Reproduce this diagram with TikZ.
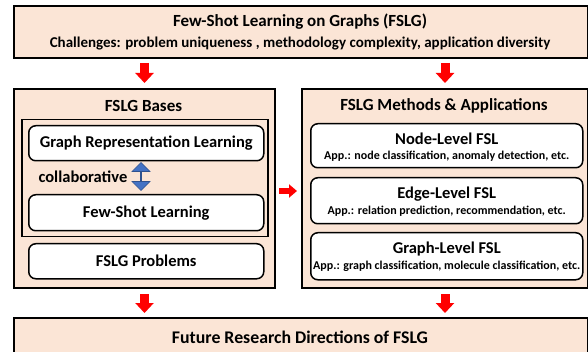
\documentclass[tikz,border=0pt]{standalone}
\usepackage{fontspec}
\setmainfont{Carlito}
\usetikzlibrary{arrows.meta,shapes.arrows,calc}
\definecolor{peach}{HTML}{FBE5D6}
\definecolor{arrblue}{HTML}{4472C4}
\definecolor{arrbluedark}{HTML}{2F528F}
\begin{document}
\begin{tikzpicture}[x=1pt,y=-1pt,
  outerbox/.style={draw=black, line width=2pt, fill=peach, anchor=north west, inner sep=0pt},
  innerrect/.style={draw=black, line width=1.5pt, anchor=north west, inner sep=0pt},
  itembox/.style={draw=black, line width=1.5pt, fill=white, rounded corners=7pt, anchor=north west, inner sep=0pt},
  bigtitle/.style={font=\fontsize{17}{20}\selectfont\bfseries},
  subtitle/.style={font=\fontsize{15}{17}\selectfont\bfseries},
  itemtitle/.style={font=\fontsize{16.5}{19}\selectfont\bfseries},
  apptext/.style={font=\fontsize{12}{14}\selectfont\bfseries},
  redarr/.style={red, line width=9pt, -{Triangle[width=18pt,length=10pt]}},
  redarrh/.style={red, line width=6pt, -{Triangle[width=13pt,length=8pt]}},
]
\useasboundingbox (0,0) rectangle (588,352);
% top
\node[outerbox, minimum width=574pt, minimum height=52pt] (top) at (13,5) {};
\node[bigtitle] (toptitle) at (300,22) {Few-Shot Learning on Graphs (FSLG)};
\node[subtitle] (chal) at (300,44) {Challenges: problem uniqueness , methodology complexity, application diversity};
% left
\node[outerbox, minimum width=261pt, minimum height=199pt] (bases) at (13,88) {};
\node[bigtitle] (basestitle) at (143.5,106) {FSLG Bases};
\node[innerrect, minimum width=246pt, minimum height=117pt] (inner) at (21,119) {};
\node[itembox, minimum width=235pt, minimum height=35pt] (grl) at (28,125) {};
\node[itemtitle] at (grl.center) {Graph Representation Learning};
\node[itemtitle, anchor=west] (collab) at (35,177) {collaborative};
\node[itembox, minimum width=235pt, minimum height=36pt] (fsl) at (28,194) {};
\node[itemtitle] at (fsl.center) {Few-Shot Learning};
\node[itembox, minimum width=235pt, minimum height=35pt] (prob) at (28,243) {};
\node[itemtitle] at (prob.center) {FSLG Problems};
\node[draw=arrbluedark, line width=0.6pt, fill=arrblue, double arrow, shape border rotate=90,
  minimum height=28pt, minimum width=18pt, double arrow head extend=5pt, inner sep=0pt,
  double arrow tip angle=90] (blue) at (141,176.5) {};
% right
\node[outerbox, minimum width=286pt, minimum height=199pt] (methods) at (301,88) {};
\node[bigtitle] (methtitle) at (444,106) {FSLG Methods \& Applications};
\node[itembox, minimum width=272pt, minimum height=44pt] (node) at (310,123) {};
\node[itemtitle] at ([yshift=7pt]node.center) {Node-Level FSL};
\node[apptext] at ([yshift=-10pt]node.center) {App.: node classification, anomaly detection, etc.};
\node[itembox, minimum width=272pt, minimum height=46pt] (edge) at (310,177) {};
\node[itemtitle] at ([yshift=7pt]edge.center) {Edge-Level FSL};
\node[apptext] at ([yshift=-10pt]edge.center) {App.: relation prediction, recommendation, etc.};
\node[itembox, minimum width=272pt, minimum height=47pt] (graph) at (310,232) {};
\node[itemtitle] at ([yshift=7pt]graph.center) {Graph-Level FSL};
\node[apptext] at ([yshift=-10pt]graph.center) {App.: graph classification, molecule classification, etc.};
% bottom
\node[outerbox, minimum width=574pt, minimum height=50pt] (bottom) at (13,317) {};
\node[font=\fontsize{17.8}{20}\selectfont\bfseries] (bottitle) at (300,337) {Future Research Directions of FSLG};
% arrows
\draw[redarr, shorten <=4pt, shorten >=5pt] (top.south -| bases.north) -- (bases.north);
\draw[redarr, shorten <=4pt, shorten >=5pt] (top.south -| methods.north) -- (methods.north);
\draw[redarr, shorten <=5pt, shorten >=4pt] (bases.south) -- (bottom.north -| bases.south);
\draw[redarr, shorten <=5pt, shorten >=4pt] (methods.south) -- (bottom.north -| methods.south);
\draw[redarrh, shorten <=3pt, shorten >=4pt] ([yshift=-2.5pt]bases.east) -- ([yshift=-2.5pt]methods.west);
\end{tikzpicture}
\end{document}
